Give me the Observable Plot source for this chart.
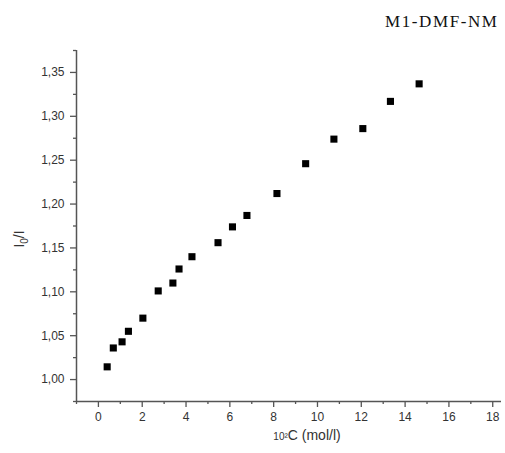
<!DOCTYPE html>
<html>
<head>
<meta charset="utf-8">
<script src="https://cdn.jsdelivr.net/npm/d3@7"></script>
<script src="https://cdn.jsdelivr.net/npm/@observablehq/plot@0.6"></script>
<style>
  html, body { margin: 0; padding: 0; background: #fff; }
  #wrap { position: relative; width: 505px; height: 453px; }
  #title { position: absolute; left: 385px; top: 12px; font-family: "Liberation Serif", "Times New Roman", serif; font-size: 17px; letter-spacing: 1.6px; color: #111; white-space: nowrap; }
</style>
</head>
<body>
<div id="wrap"><div id="title">M1-DMF-NM</div></div>
<script>
const titleText = "M1-DMF-NM";
const concentration = [0.40, 0.68, 1.08, 1.37, 2.03, 2.73, 3.40, 3.68, 4.27, 5.46, 6.12, 6.78, 8.15, 9.46, 10.75, 12.07, 13.33, 14.64];
const ratio = [1.0145, 1.036, 1.043, 1.055, 1.070, 1.101, 1.110, 1.126, 1.140, 1.156, 1.174, 1.187, 1.212, 1.246, 1.274, 1.286, 1.317, 1.337];
const xTicks = [0, 2, 4, 6, 8, 10, 12, 14, 16, 18];
const xMinor = [-1, 1, 3, 5, 7, 9, 11, 13, 15, 17];
const yTicks = [1.00, 1.05, 1.10, 1.15, 1.20, 1.25, 1.30, 1.35];
const yMinor = [0.975, 1.025, 1.075, 1.125, 1.175, 1.225, 1.275, 1.325, 1.375];
const xDomain = [-1, 18.4];
const yDomain = [0.975, 1.375];

const data = concentration.map((c, i) => ({c, r: ratio[i]}));
const axisColor = "#555";
const fmt = d => d.toFixed(2).replace(".", ",");

const chart = Plot.plot({
  width: 505,
  height: 453,
  marginLeft: 76,
  marginTop: 50,
  marginBottom: 52,
  marginRight: 4,
  style: {fontFamily: "'Liberation Sans', Arial, sans-serif", fontSize: "12px", color: "#333", background: "#fff"},
  x: {domain: xDomain},
  y: {domain: yDomain},
  marks: [
    Plot.ruleX([xDomain[0]], {stroke: axisColor, strokeWidth: 1.5}),
    Plot.ruleY([yDomain[0]], {stroke: axisColor, strokeWidth: 1.5}),
    Plot.axisX(xTicks, {ticks: xTicks, tickSize: 6, tickPadding: 5, stroke: axisColor, strokeWidth: 1.3, label: null, tickFormat: d => String(d)}),
    Plot.axisX(xMinor, {ticks: xMinor, tickSize: 3, stroke: axisColor, strokeWidth: 1.3, label: null, text: null}),
    Plot.axisY(yTicks, {ticks: yTicks, tickSize: 6, tickPadding: 6, stroke: axisColor, strokeWidth: 1.3, label: null, tickFormat: fmt}),
    Plot.axisY(yMinor, {ticks: yMinor, tickSize: 3, stroke: axisColor, strokeWidth: 1.3, label: null, text: null}),
    Plot.dot(data, {x: "c", y: "r", symbol: "square", r: 4, fill: "#000", stroke: "none"})
  ]
});
document.getElementById("wrap").appendChild(chart);
document.getElementById("title").textContent = titleText;

const svg = d3.select(chart);
// x label
const xl = svg.append("text")
  .attr("x", 307).attr("y", 440)
  .attr("text-anchor", "middle")
  .attr("font-family", "'Liberation Sans', Arial, sans-serif")
  .attr("font-size", 14).attr("fill", "#333");
xl.append("tspan").attr("font-size", 10).text("10²");
xl.append("tspan").text("C (mol/l)");
// y label
const yl = svg.append("text")
  .attr("transform", "translate(24,239) rotate(-90)")
  .attr("text-anchor", "middle")
  .attr("font-family", "'Liberation Sans', Arial, sans-serif")
  .attr("font-size", 14).attr("fill", "#333");
yl.append("tspan").text("I");
yl.append("tspan").attr("font-size", 10).attr("dy", 4).text("0");
yl.append("tspan").attr("dy", -4).text("/I");
</script>
</body>
</html>
